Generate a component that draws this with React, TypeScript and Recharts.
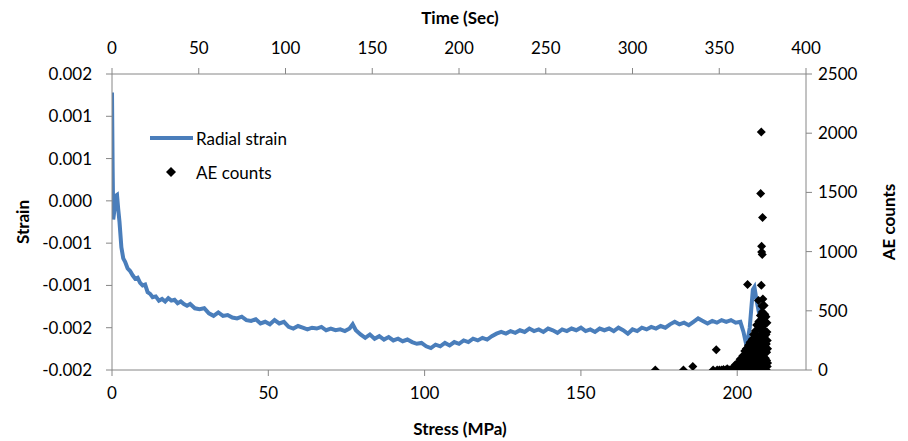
import { ComposedChart, Line, Scatter, XAxis, YAxis, Legend, Label } from "recharts";

// stress (MPa) vs radial strain
const strainStress = [
  0, 0.2, 0.4, 0.8, 1.2, 1.6, 2.0, 2.4, 3.0, 3.6, 4.2, 5.0, 5.8, 6.6, 7.4, 8.2, 9.0, 9.8, 10.6, 11.4,
  12.2, 13.0, 14.0, 15.0, 16.0, 17.0, 18.0, 19.0, 20.0, 21.0, 22.0, 23.0, 24.0, 25.0, 26.5, 28.0, 29.5, 31.0, 32.5, 34.0,
  35.5, 37.0, 38.5, 40.0, 41.5, 43.0, 44.5, 46.0, 47.5, 49.0, 50.5, 52.0, 53.5, 55.0, 56.5, 58.0, 59.5, 61.0, 62.5, 64.0,
  65.5, 67.0, 68.5, 70.0, 71.5, 73.0, 74.5, 76.0, 77.0, 78.0, 79.5, 81.0, 82.5, 84.0, 85.5, 87.0, 88.5, 90.0, 91.5, 93.0,
  94.5, 96.0, 97.5, 99.0, 100.5, 102.0, 103.5, 105.0, 106.5, 108.0, 109.5, 111.0, 112.5, 114.0, 115.5, 117.0, 118.5, 120.0, 121.5, 123.0,
  124.5, 126.0, 127.5, 129.0, 130.5, 132.0, 133.5, 135.0, 136.5, 138.0, 139.5, 141.0, 142.5, 144.0, 145.5, 147.0, 148.5, 150.0, 151.5, 153.0,
  154.5, 156.0, 157.5, 159.0, 160.5, 162.0, 163.5, 165.0, 166.5, 168.0, 169.5, 171.0, 172.5, 174.0, 175.5, 177.0, 178.5, 180.0, 181.5, 183.0,
  184.5, 186.0, 187.5, 189.0, 190.5, 192.0, 193.5, 195.0, 196.5, 198.0, 199.5, 201.0, 202.0, 203.0, 204.0, 205.0, 205.5, 206.2, 207.0, 207.8,
  208.6, 209.5,
];

const radialStrain = [
  0.00128, 0.0004, -0.00022, -0.0001, 0.00006, 0.00007, -0.0001, -0.00025, -0.00055, -0.00068, -0.00072, -0.0008, -0.00083, -0.00088, -0.00092, -0.00091, -0.00097, -0.001, -0.00099, -0.00108,
  -0.0011, -0.00114, -0.00113, -0.00118, -0.00116, -0.00119, -0.00115, -0.00118, -0.00117, -0.00121, -0.00119, -0.00122, -0.00124, -0.00122, -0.00127, -0.00128, -0.00127, -0.00133, -0.00136, -0.00132,
  -0.00136, -0.00135, -0.00138, -0.00139, -0.00137, -0.00141, -0.00142, -0.0014, -0.00145, -0.00143, -0.00146, -0.00141, -0.00145, -0.00143, -0.00149, -0.00151, -0.00148, -0.0015, -0.00152, -0.0015,
  -0.00151, -0.00149, -0.00153, -0.00151, -0.00153, -0.00152, -0.00154, -0.00151, -0.00146, -0.00153, -0.00158, -0.00162, -0.00158, -0.00163, -0.0016, -0.00164, -0.00161, -0.00165, -0.00163, -0.00166,
  -0.00164, -0.00167, -0.00169, -0.00168, -0.00172, -0.00174, -0.0017, -0.00172, -0.00168, -0.00171, -0.00167, -0.00169, -0.00165, -0.00167, -0.00163, -0.00165, -0.00162, -0.00164, -0.0016, -0.00157,
  -0.00155, -0.00157, -0.00154, -0.00156, -0.00153, -0.00155, -0.00151, -0.00154, -0.00152, -0.00155, -0.00151, -0.00153, -0.00156, -0.00152, -0.00154, -0.00151, -0.00153, -0.0015, -0.00154, -0.00152,
  -0.00155, -0.00151, -0.00153, -0.00151, -0.00154, -0.0015, -0.00153, -0.00157, -0.00152, -0.00154, -0.0015, -0.00152, -0.00149, -0.00151, -0.00148, -0.0015, -0.00146, -0.00143, -0.00146, -0.00144,
  -0.00147, -0.00143, -0.00139, -0.00142, -0.00145, -0.00142, -0.00144, -0.00141, -0.00143, -0.00141, -0.00144, -0.00143, -0.00155, -0.00172, -0.0015, -0.00105, -0.00102, -0.00118, -0.00133, -0.00128,
  -0.0014, -0.00147,
];

// stress (MPa) vs AE counts
const aeStress = [
  173.8, 182.8, 185.8, 192.3, 193.3, 193.6, 194.3, 195.0, 195.6, 196.2, 196.8, 197.2, 197.5, 198.0,
  198.5, 199.0, 199.4, 199.8, 200.2, 200.6, 200.9, 201.2, 201.5, 201.6, 201.8, 202.0, 202.1, 202.2, 202.4, 202.5, 202.7, 202.9,
  203.1, 203.3, 203.4, 203.5, 203.6, 203.8, 203.9, 204.0, 204.1, 204.2, 204.3, 204.5, 204.6, 204.8, 204.9, 205.0, 205.1, 205.2, 205.3, 205.4, 205.5, 205.6,
  205.7, 205.8, 205.9, 206.0, 206.1, 206.2, 206.3, 206.4, 206.5, 206.6, 206.7, 206.8, 206.9, 206.9, 207.0, 207.1, 207.2, 207.2, 207.3, 207.4, 207.4, 207.5, 207.5, 207.6, 207.6, 207.7,
  207.7, 207.8, 207.8, 207.8, 207.9, 207.9, 208.0, 208.0, 208.0, 208.1, 208.1, 208.2, 208.2, 208.3, 208.3, 208.4, 208.4, 208.5, 208.5, 208.6, 208.6, 208.7, 208.7,
  208.8, 208.8, 208.9, 209.0, 209.0, 209.1, 209.1, 209.2, 209.2, 209.3, 209.3, 209.4, 209.4, 209.5, 209.5, 209.6, 209.6, 209.7, 209.7,
];

const aeCounts = [
  0, 0, 30, 0, 171, 0, 0, 0, 5, 0, 10, 0, 0, 5,
  10, 25, 45, 15, 60, 30, 90, 5, 55, 100, 120, 0, 80, 20, 160, 90, 40, 180,
  110, 723, 0, 110, 210, 60, 150, 0, 235, 120, 70, 190, 30, 260, 200, 120, 50, 300, 150, 20, 0, 240,
  90, 330, 200, 170, 40, 380, 260, 90, 0, 290, 140, 588, 410, 50, 200, 100, 350, 30, 0, 460, 220, 1490, 380, 130, 300, 2010,
  715, 1045, 997, 250, 540, 160, 975, 490, 60, 1288, 280, 600, 350, 420, 100, 461, 230, 180, 0, 545, 280, 330, 20,
  60, 470, 200, 390, 100, 250, 40, 450, 300, 0, 220, 150, 80, 320, 400, 30, 250, 180, 60,
];

const timeTicks = [0, 50, 100, 150, 200, 250, 300, 350, 400];
const stressTicks = [0, 50, 100, 150, 200];
const strainTicks = [-0.002, -0.0015, -0.001, -0.0005, 0, 0.0005, 0.001, 0.0015];
const aeTicks = [0, 500, 1000, 1500, 2000, 2500];

const strainData = strainStress.map((s, i) => ({ stress: s, strain: radialStrain[i] }));
const aeData = aeStress.map((s, i) => ({ stress: s, ae: aeCounts[i] }));
// empty rows so the time axis gets drawn
const timeData = timeTicks.map((t) => ({ time: t, blank: null }));

const FONT = "Lato, 'Liberation Sans', sans-serif";
const AXIS = "#868686";
const BLUE = "#4A7EBB";
const tickStyle = { fontSize: 17, fill: "#000", fontFamily: FONT };

// Excel style rounding to 3 decimals
const fmtStrain = (v: number) => {
  const r = (Math.sign(v) * Math.round(Math.abs(v) * 1000)) / 1000;
  return (r === 0 ? 0 : r).toFixed(3);
};

const Diamond = (props: any) => {
  const { cx, cy } = props;
  if (cx == null || cy == null) return null;
  const r = 4.5;
  return <polygon points={`${cx},${cy - r} ${cx + r},${cy} ${cx},${cy + r} ${cx - r},${cy}`} fill="#000" />;
};

const title = (text: string, x: number, y: number, angle = 0) => () => (
  <text
    x={x}
    y={y}
    textAnchor="middle"
    dominantBaseline="central"
    transform={angle ? `rotate(${angle} ${x} ${y})` : undefined}
    style={{ fontSize: 17, fontWeight: 700, fontFamily: FONT, fill: "#000" }}
  >
    {text}
  </text>
);

const renderLegend = () => (
  <svg width={170} height={60}>
    <line x1={0} y1={10} x2={43} y2={10} stroke={BLUE} strokeWidth={4} />
    <text x={46} y={10} dominantBaseline="central" style={{ fontSize: 17, fontFamily: FONT }}>Radial strain</text>
    <polygon points="21,39 26,44 21,49 16,44" fill="#000" />
    <text x={46} y={44} dominantBaseline="central" style={{ fontSize: 17, fontFamily: FONT }}>AE counts</text>
  </svg>
);

export default function App() {
  return (
    <ComposedChart width={892} height={433} margin={{ top: 16, right: 34, bottom: 8, left: 44 }}>
      <XAxis
        xAxisId="stress"
        dataKey="stress"
        type="number"
        domain={[0, 222]}
        ticks={stressTicks}
        allowDataOverflow
        height={63}
        stroke={AXIS}
        tickSize={6}
        tickMargin={11}
        tick={tickStyle}
      >
        <Label content={title("Stress (MPa)", 452, 420)} />
      </XAxis>
      <XAxis
        xAxisId="time"
        dataKey="time"
        orientation="top"
        type="number"
        domain={[0, 400]}
        ticks={timeTicks}
        allowDataOverflow
        height={50}
        stroke={AXIS}
        tickSize={6}
        tickMargin={14}
        tick={tickStyle}
      >
        <Label content={title("Time (Sec)", 452, 9)} />
      </XAxis>
      <YAxis
        yAxisId="strain"
        type="number"
        domain={[-0.002, 0.0015]}
        ticks={strainTicks}
        allowDataOverflow
        width={60}
        stroke={AXIS}
        tickSize={6}
        tickMargin={14}
        tick={tickStyle}
        tickFormatter={fmtStrain}
      >
        <Label content={title("Strain", 14, 214, -90)} />
      </YAxis>
      <YAxis
        yAxisId="ae"
        orientation="right"
        type="number"
        domain={[0, 2500]}
        ticks={aeTicks}
        allowDataOverflow
        width={60}
        stroke={AXIS}
        tickSize={6}
        tickMargin={6}
        tick={tickStyle}
      >
        <Label content={title("AE counts", 880, 214, -90)} />
      </YAxis>
      <Legend
        layout="vertical"
        align="center"
        verticalAlign="middle"
        content={renderLegend}
        wrapperStyle={{ position: "absolute", left: 142, top: 120, width: 170, height: 60 }}
      />
      <Line
        data={timeData}
        xAxisId="time"
        yAxisId="strain"
        dataKey="blank"
        stroke="none"
        dot={false}
        legendType="none"
        isAnimationActive={false}
      />
      <Line
        data={strainData}
        xAxisId="stress"
        yAxisId="strain"
        dataKey="strain"
        type="linear"
        stroke={BLUE}
        strokeWidth={4}
        dot={false}
        isAnimationActive={false}
      />
      <Scatter
        data={aeData}
        xAxisId="stress"
        yAxisId="ae"
        dataKey="ae"
        shape={Diamond}
        isAnimationActive={false}
      />
    </ComposedChart>
  );
}
